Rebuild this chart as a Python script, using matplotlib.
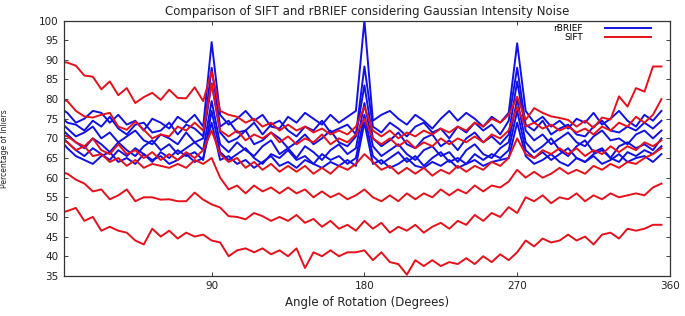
import numpy as np
import matplotlib
matplotlib.use('Agg')
import matplotlib.pyplot as plt
from matplotlib.lines import Line2D

# ============================================================
# DATA  (rotation angle in degrees, percentage of inliers)
# ============================================================
angles = list(range(0, 360, 5))

# rBRIEF curves, one per noise level
brief_1 = [78, 76.5, 74, 75, 77, 76.5, 74, 76, 73.5, 74.5, 72, 75, 74, 72.5, 75.5, 74, 76, 73,
           94.5,
           76, 73.5, 75, 77, 74.5, 76, 73, 72.5, 75.5, 74, 76.5, 75, 73.5, 76, 74, 75.5, 77,
           100,
           74.5, 76, 77, 75, 73.5, 76, 74.5, 72.5, 75, 77, 74.5, 76.5, 75, 73, 75.5, 74, 76.5,
           94.2,
           77, 74, 75.5, 73, 74.5, 72.5, 75, 74, 76.5, 73.5, 75, 77, 74.5, 73, 76, 74.5, 77]
brief_2 = [76, 74, 73.5, 72, 74.5, 73, 75.5, 72.5, 71, 73.5, 74, 71.5, 72, 74, 71, 73.5, 72.5, 70.5,
           88,
           73, 74.5, 71.5, 72, 74, 71, 73.5, 74.5, 72, 70.5, 73, 72, 74.5, 71.5, 72.5, 73.5, 71,
           88.3,
           73, 71.5, 74, 72.5, 70.5, 73, 74, 71.5, 72.5, 70, 73, 71.5, 74, 72, 73.5, 71, 74.5,
           88,
           73.5, 72, 74.5, 71, 72.5, 73.5, 71, 70.5, 73, 74.5, 72, 71.5, 73, 72, 74, 72.5, 74.5]
brief_3 = [74.5, 72.5, 70.5, 71.5, 73, 70, 71.5, 69, 70.5, 72, 69.5, 68.5, 71, 70, 68.5, 71.5, 69, 70,
           84,
           71.5, 69, 70, 72, 68.5, 69.5, 71.5, 70, 67.5, 69, 71, 68.5, 70, 72, 69, 68, 70.5,
           83.5,
           70, 68, 69.5, 71.5, 68.5, 67.5, 70, 71, 68, 69.5, 67, 70, 71.5, 69, 70.5, 68.5, 71,
           84.5,
           72, 69.5, 71, 68.5, 70, 71.5, 69, 68, 70.5, 72, 69.5, 70, 68.5, 71, 72, 70, 72]
brief_4 = [73, 71, 69, 67.5, 70, 68.5, 66.5, 69, 67, 65.5, 68, 69.5, 67, 68.5, 66, 67.5, 69, 67,
           79.5,
           68.5, 66.5, 69, 67, 65.5, 68, 69.5, 66, 67.5, 65, 68, 66.5, 64.5, 67, 68.5, 66, 67.5,
           79,
           68, 65.5, 67, 68.5, 66, 64.5, 67, 68, 65.5, 66.5, 64, 67, 68.5, 66, 65, 67.5, 69,
           80,
           69, 66.5, 68, 70, 67, 65.5, 68, 69.5, 66.5, 67.5, 65, 68, 69, 67.5, 68.5, 67, 70]
brief_5 = [71, 69, 67, 65.5, 67.5, 66, 64.5, 67, 65.5, 67.5, 66, 64, 66.5, 65, 67, 65.5, 66.5, 64.5,
           77,
           66.5, 64.5, 66, 67.5, 65, 63.5, 66, 65, 67, 64.5, 65.5, 63.5, 66, 64.5, 65.5, 63.5, 65,
           76,
           65.5, 63.5, 65, 66.5, 64, 65.5, 63, 65, 66.5, 64, 65, 63.5, 66, 64.5, 66, 65, 67,
           77,
           67, 65, 66.5, 64.5, 66, 67.5, 65, 64, 66, 67, 65, 64, 66.5, 65.5, 67, 66, 68]
brief_6 = [70, 67.5, 65.5, 64.5, 63.5, 65.5, 66.5, 64, 65, 63.5, 66, 64.5, 65.5, 63.5, 64.5, 66, 64, 65,
           74,
           64.5, 65.5, 63.5, 64.5, 62.5, 64, 65.5, 63, 64, 62.5, 64.5, 63.5, 62.5, 64, 63, 64.5, 63,
           74,
           63.5, 64.5, 62.5, 63.5, 65, 63, 62.5, 64, 63, 64.5, 62.5, 63.5, 64.5, 63, 64, 64.5, 65,
           74,
           65.5, 63.5, 64.5, 66, 64, 63, 65, 64, 65.5, 63.5, 64.5, 66, 64, 65, 65.5, 64, 66]

# SIFT curves, one per noise level
sift_1 = [89.5, 89.3, 88.5, 86, 85.7, 82.5, 84.5, 81, 82.8, 79, 80.5, 81.6, 79.8, 82.4, 80.3, 80.2, 83, 79.5,
          87, 77, 76, 75.5, 74, 75, 73, 74, 72, 73.5, 72, 73, 71.5, 72.5, 71, 72, 71, 73,
          78, 72, 70.5, 72, 70, 71.5, 70.5, 72, 71, 72.5, 71.5, 73, 72, 74, 73, 75, 74, 76,
          80.6, 74.7, 77.7, 76.5, 75.6, 75.2, 74.7, 73, 74.5, 72.7, 75.3, 74.8, 80.7, 78.1, 82.8, 81.9, 88.3, 88.3]
sift_2 = [80, 79.5, 77, 75.6, 75.3, 76, 76.5, 73, 72.2, 74.3, 72.2, 70, 71, 70.5, 73, 72, 74, 72,
          84, 72, 70.5, 72, 69.5, 71, 70, 71.5, 69, 70.5, 68.5, 70, 69, 71, 68.5, 70, 69, 71,
          75, 70, 68.5, 70, 68, 69.5, 67.5, 69, 68, 70, 68.5, 70, 69, 70.5, 69, 71, 70, 72,
          78, 73, 74, 72.5, 73.5, 72, 73, 71.5, 72.5, 71, 73, 72, 74, 73, 75.5, 74, 76, 80]
sift_3 = [71, 70.5, 69, 68, 70, 67, 66, 68.5, 66, 67, 65, 66.5, 64.5, 66, 64.5, 66.5, 65, 67,
          72, 66, 64, 65, 62.5, 64, 62, 63.5, 61.5, 63, 61.5, 63, 61, 62.5, 61, 63, 62, 63.5,
          66, 64, 62, 63, 61, 62.5, 61, 62.5, 60.5, 62, 61, 63, 61.5, 63, 62, 64, 63, 65,
          70, 66, 65, 67, 66, 67.5, 66, 67.5, 65.5, 67, 66, 68, 66.5, 68, 67, 69, 68, 69.5]
sift_4 = [70, 69, 67, 68, 65.5, 66, 64, 65, 63, 64.5, 62.5, 63.5, 63, 62.5, 63.5, 62.5, 64.5, 63.5,
          65, 60, 57, 58, 56, 58, 56.5, 57.5, 56, 57.5, 56, 57, 55, 56.5, 55, 56, 54.5, 55.5,
          57, 55, 54, 55.5, 54, 56, 54.5, 56, 55, 57, 55.5, 57, 56, 58, 56.5, 58, 57.5, 59,
          62, 60, 61.5, 60, 61, 62.5, 61, 62, 61, 63, 62, 63.5, 62.5, 64, 63.5, 65, 66, 67.5]
sift_5 = [61.5, 61, 59.5, 58.5, 56.5, 57, 54.5, 55.5, 57, 54, 55, 55, 54.4, 54.5, 54, 54, 56.2, 54.4,
          53.2, 52.4, 50.2, 50, 49.4, 51, 50.2, 49, 50, 49, 50.5, 48.5, 49.5, 47.5, 49, 47, 48, 46.5,
          49, 47, 48.5, 46, 47.5, 46.5, 48, 46, 47.5, 48.5, 47, 49, 48, 50.5, 49, 51, 50, 52.5,
          51, 55, 54, 55.5, 53.5, 55, 54.5, 56, 54, 55.5, 54.5, 56, 55, 55.5, 56, 55.5, 57.5, 58.5]
sift_6 = [51, 51.5, 52.3, 49, 50, 46.5, 47.5, 46.5, 46, 44, 43, 47, 45, 46.5, 44.5, 46, 45, 45.5,
          44, 43.5, 40, 41.5, 42, 41, 42, 40.5, 41.5, 40, 42, 37, 41, 40, 41.5, 40, 41, 41,
          41.5, 39, 41, 38.5, 38, 35.3, 39, 37.5, 39, 37.5, 38.5, 38, 39.5, 38, 40, 38.5, 40.5, 39,
          41, 44, 42.5, 44.5, 43.5, 44, 45.5, 44, 45, 43, 45.5, 46, 44.5, 47, 46.5, 47, 48, 48]

brief_curves = [brief_1, brief_2, brief_3, brief_4, brief_5, brief_6]
sift_curves  = [sift_1, sift_2, sift_3, sift_4, sift_5, sift_6]

blue = '#1010e8'
red  = '#e8101a'

# ============================================================
# PLOT
# ============================================================
fig = plt.figure(figsize=(6.85, 3.16), dpi=100)
ax = fig.add_axes([0.0934, 0.127, 0.8846, 0.808])

for ys in brief_curves:
    ax.plot(angles, ys, color=blue, lw=1.4)
for ys in sift_curves:
    ax.plot(angles, ys, color=red, lw=1.4)

ax.set_xlim(3, 360)
ax.set_ylim(35, 100)
ax.set_xticks([90, 180, 270, 360])
ax.set_yticks(range(35, 101, 5))
ax.tick_params(direction='in', top=True, right=True, labelsize=7.5,
               length=3, width=0.6, colors='#222222', pad=4)
for s in ax.spines.values():
    s.set_color('#333333')
    s.set_linewidth(0.9)

ax.set_title('Comparison of SIFT and rBRIEF considering Gaussian Intensity Noise',
             fontsize=8.5, pad=4, color='#222222')
ax.set_xlabel('Angle of Rotation (Degrees)', fontsize=8.5, labelpad=3, color='#222222')
ax.set_ylabel('Percentage of Inliers', fontsize=5.5, color='#222222')
ax.yaxis.set_label_coords(-0.09, 0.5)

handles = [Line2D([], [], color=blue, lw=1.4), Line2D([], [], color=red, lw=1.4)]
ax.legend(handles, ['rBRIEF', 'SIFT'], loc='upper right', frameon=False,
          fontsize=6.5, markerfirst=False, handlelength=5.2, handletextpad=2.4,
          labelspacing=-0.02, borderaxespad=0.3, bbox_to_anchor=(0.98, 1.01))

plt.savefig('out.png', dpi=100)
